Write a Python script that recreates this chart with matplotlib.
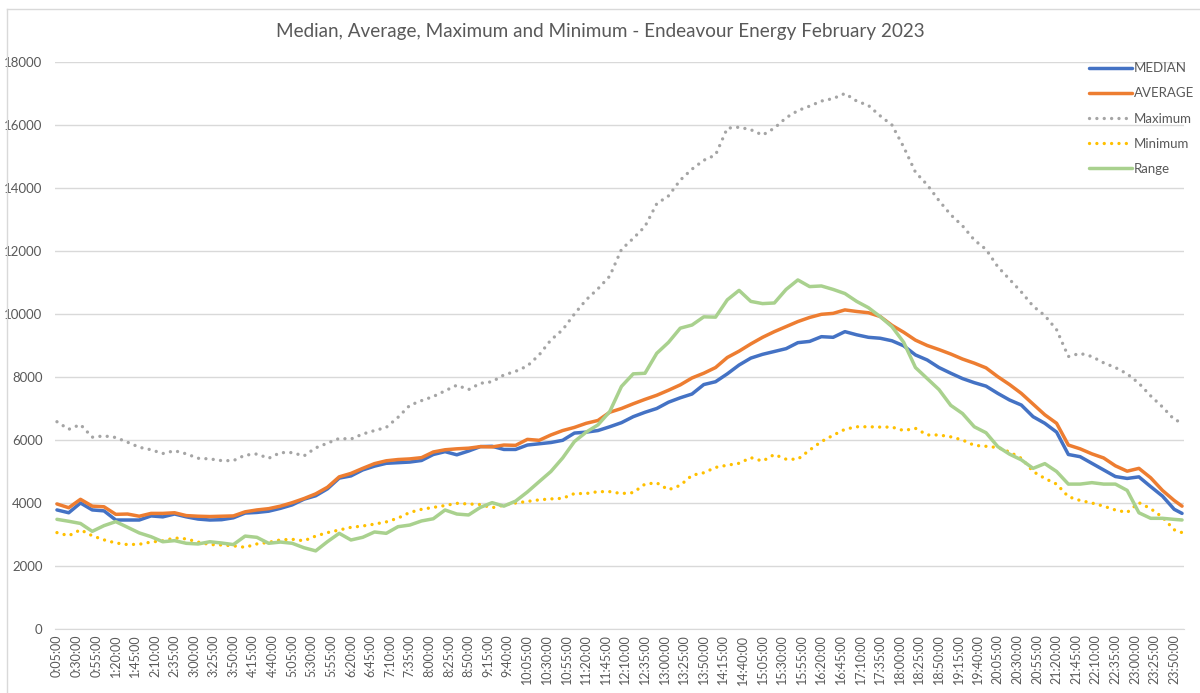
import matplotlib
matplotlib.use("Agg")
import matplotlib.pyplot as plt
from matplotlib.lines import Line2D

plt.rcParams['font.family'] = ['Lato', 'DejaVu Sans']

# ---- categories: 5-minute intervals 0:05 ... 24:00 ----
def fmt(m):
    m = m % 1440
    return f"{m // 60}:{m % 60:02d}:00"

times = [fmt(5 + 5 * i) for i in range(288)]
tick_times = times[::5][:58]

# sampled every 15 minutes (plus final interval)
sample_times = times[::3] + [times[287]]

median = [3780, 3690, 4000, 3780, 3750, 3460, 3460, 3460, 3590, 3560,
          3650, 3560, 3490, 3460, 3470, 3530, 3680, 3700, 3740, 3830,
          3940, 4120, 4230, 4450, 4790, 4860, 5050, 5170, 5260, 5280,
          5300, 5350, 5540, 5630, 5530, 5650, 5790, 5800, 5700, 5700,
          5840, 5880, 5920, 5990, 6220, 6250, 6300, 6420, 6550, 6740,
          6880, 7000, 7200, 7340, 7460, 7760, 7850, 8100, 8380, 8600,
          8720, 8810, 8900, 9090, 9130, 9280, 9260, 9440, 9340, 9260,
          9230, 9150, 8990, 8700, 8540, 8300, 8120, 7950, 7820, 7710,
          7480, 7270, 7110, 6740, 6530, 6250, 5540, 5470, 5260, 5050,
          4840, 4780, 4830, 4520, 4220, 3800, 3670]

average = [3970, 3850, 4117, 3900, 3880, 3640, 3650, 3580, 3670, 3670,
           3690, 3600, 3580, 3570, 3580, 3590, 3720, 3780, 3820, 3900,
           4010, 4140, 4290, 4500, 4830, 4940, 5100, 5250, 5340, 5380,
           5400, 5440, 5620, 5690, 5720, 5740, 5790, 5780, 5840, 5830,
           6020, 5990, 6160, 6300, 6400, 6530, 6620, 6880, 7000, 7150,
           7290, 7420, 7580, 7750, 7970, 8120, 8300, 8620, 8820, 9050,
           9260, 9440, 9600, 9760, 9890, 9990, 10020, 10130, 10080, 10040,
           9920, 9640, 9420, 9170, 9000, 8870, 8730, 8570, 8440, 8290,
           8010, 7760, 7480, 7140, 6800, 6530, 5840, 5720, 5560, 5430,
           5180, 5010, 5100, 4800, 4400, 4080, 3900]

maximum = [6580, 6340, 6490, 6090, 6130, 6080, 5930, 5770, 5690, 5570,
           5660, 5560, 5420, 5400, 5345, 5345, 5520, 5556, 5420, 5600,
           5600, 5493, 5750, 5900, 6050, 6030, 6190, 6300, 6400, 6720,
           7100, 7250, 7380, 7560, 7740, 7600, 7800, 7850, 8065, 8180,
           8350, 8700, 9175, 9500, 10000, 10450, 10800, 11200, 12050, 12400,
           12780, 13500, 13750, 14250, 14600, 14880, 15050, 15900, 15930, 15850,
           15680, 15900, 16230, 16457, 16600, 16760, 16840, 17000, 16760, 16620,
           16290, 16000, 15300, 14500, 14100, 13600, 13150, 12800, 12350, 12050,
           11500, 11100, 10700, 10250, 9950, 9500, 8650, 8750, 8650, 8450,
           8300, 8100, 7800, 7400, 7050, 6650, 6550]

minimum = [3060, 2960, 3150, 2960, 2830, 2730, 2680, 2690, 2760, 2800,
           2890, 2860, 2760, 2680, 2667, 2640, 2594, 2700, 2750, 2830,
           2848, 2800, 2950, 3060, 3143, 3228, 3270, 3330, 3400, 3520,
           3700, 3800, 3860, 3920, 3990, 3969, 3950, 3850, 3930, 4000,
           4050, 4100, 4130, 4148, 4300, 4300, 4360, 4360, 4300, 4330,
           4600, 4640, 4420, 4560, 4880, 4960, 5130, 5200, 5260, 5440,
           5330, 5540, 5390, 5390, 5680, 5950, 6150, 6340, 6420, 6420,
           6410, 6410, 6300, 6370, 6160, 6160, 6100, 6000, 5830, 5800,
           5760, 5620, 5420, 5000, 4780, 4600, 4200, 4080, 4000, 3900,
           3778, 3700, 4011, 3820, 3550, 3150, 3060]

range_ = [3482, 3420, 3350, 3100, 3281, 3408, 3230, 3050, 2930, 2770,
          2805, 2720, 2699, 2770, 2730, 2680, 2950, 2910, 2721, 2760,
          2721, 2580, 2480, 2773, 3037, 2826, 2911, 3080, 3037, 3248,
          3300, 3430, 3500, 3778, 3650, 3620, 3860, 4011, 3900, 4060,
          4350, 4677, 5000, 5430, 5950, 6250, 6480, 6900, 7700, 8100,
          8118, 8752, 9100, 9550, 9650, 9910, 9900, 10450, 10750, 10400,
          10330, 10350, 10780, 11081, 10870, 10890, 10780, 10650, 10400, 10200,
          9916, 9598, 9100, 8300, 7950, 7600, 7100, 6840, 6420, 6230,
          5789, 5550, 5370, 5100, 5250, 5000, 4600, 4600, 4646, 4600,
          4600, 4400, 3690, 3514, 3514, 3480, 3461]

series = [
    ("MEDIAN", median, "#4472C4", "-"),
    ("AVERAGE", average, "#ED7D31", "-"),
    ("Maximum", maximum, "#A5A5A5", (0, (0.01, 2.2))),
    ("Minimum", minimum, "#FFC000", (0, (0.01, 2.2))),
    ("Range", range_, "#A9D18E", "-"),
]

W, H = 1200, 693
fig = plt.figure(figsize=(W / 100, H / 100), dpi=100)
# chart-area border (top and left edges visible)
fig.lines.append(Line2D([7 / W, 7 / W], [0, 1 - 9 / H], transform=fig.transFigure,
                        color="#D9D9D9", lw=1))
fig.lines.append(Line2D([7 / W, 1], [1 - 9 / H, 1 - 9 / H], transform=fig.transFigure,
                        color="#D9D9D9", lw=1))

ax = fig.add_axes([55 / W, 1 - 629 / H, (1184 - 55) / W, (629 - 62) / H])

pos = {t: i for i, t in enumerate(times)}
xs = [pos[t] for t in sample_times]
for name, vals, col, ls in series:
    if ls == "-":
        ax.plot(xs, vals, color=col, lw=2.5, ls=ls, label=name,
                solid_joinstyle="round", solid_capstyle="round")
    else:
        ax.plot(xs, vals, color=col, lw=2.4, ls=ls, label=name,
                dash_capstyle="round")

ax.set_xlim(-0.5, 287.5)
ax.set_ylim(0, 18000)
ax.set_yticks(range(0, 18001, 2000))
ax.set_xticks([pos[t] for t in tick_times])
ax.set_xticklabels(tick_times, rotation=90, fontsize=9, color="#595959")
ax.tick_params(axis="y", labelsize=9.5, labelcolor="#595959", length=0, pad=9)
ax.tick_params(axis="x", length=0, pad=4)
ax.grid(axis="y", color="#D9D9D9", lw=1)
ax.set_axisbelow(True)
for s in ["top", "right", "left"]:
    ax.spines[s].set_visible(False)
ax.spines["bottom"].set_color("#D9D9D9")

fig.text(0.5, 1 - 32 / H,
         "Median, Average, Maximum and Minimum - Endeavour Energy February 2023",
         ha="center", va="center", fontsize=13.6, color="#595959")

leg = ax.legend(loc="upper left", bbox_to_anchor=(1084 / W, 1 - 57 / H),
                bbox_transform=fig.transFigure, frameon=False, fontsize=9.5,
                labelcolor="#595959", handlelength=3.2, handletextpad=0.2,
                labelspacing=1.0, borderaxespad=0)

fig.savefig("out.png", dpi=100)
